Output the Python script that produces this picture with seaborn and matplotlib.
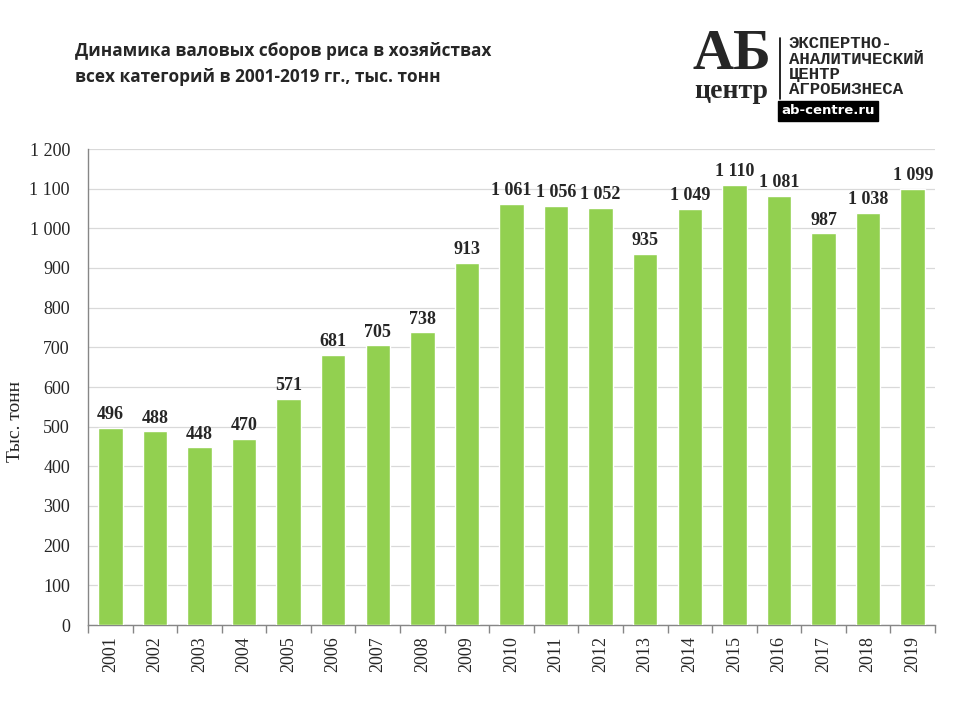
import matplotlib
matplotlib.use("Agg")
import matplotlib.pyplot as plt
import seaborn as sns
import pandas as pd
import numpy as np
from matplotlib.ticker import FuncFormatter, FixedLocator

years = ["2001", "2002", "2003", "2004", "2005", "2006", "2007", "2008", "2009", "2010",
         "2011", "2012", "2013", "2014", "2015", "2016", "2017", "2018", "2019"]
values = [496, 488, 448, 470, 571, 681, 705, 738, 913, 1061,
          1056, 1052, 935, 1049, 1110, 1081, 987, 1038, 1099]
title = "Динамика валовых сборов риса в хозяйствах\nвсех категорий в 2001-2019 гг., тыс. тонн"
ylabel = "Тыс. тонн"

df = pd.DataFrame({"year": years, "value": values})

sns.set_theme(style="white")
plt.rcParams['font.family'] = ['DejaVu Sans']

fig = plt.figure(figsize=(9.6, 7.2), dpi=100)
ax = fig.add_axes([88/960, 1-625/720, (935-88)/960, (625-149)/720])

sns.barplot(data=df, x="year", y="value", color="#92D050", saturation=1, width=0.55, ax=ax, zorder=3)

ax.set_ylim(0, 1200)
ax.set_xlim(-0.5, len(years)-0.5)
ax.yaxis.set_major_locator(FixedLocator(np.arange(0, 1201, 100)))
fmt = lambda v, p: f"{int(v):,}".replace(",", " ")
ax.yaxis.set_major_formatter(FuncFormatter(fmt))
ax.grid(axis="y", color="#d9d9d9", linewidth=0.9, zorder=0)
ax.grid(axis="x", visible=False)

for s in ["top", "right"]:
    ax.spines[s].set_visible(False)
for s in ["left", "bottom"]:
    ax.spines[s].set_color("#868686")
    ax.spines[s].set_linewidth(1.0)

serif = ["Liberation Serif", "DejaVu Serif"]
ax.tick_params(axis="y", which="major", length=5, color="#868686", labelsize=13, pad=8)
for t in ax.get_yticklabels():
    t.set_family(serif)
ax.set_xticks(range(len(years)))
ax.set_xticklabels(years, rotation=90, fontsize=13, family=serif)
ax.tick_params(axis="x", which="major", length=0, pad=8)
ax.set_xticks(np.arange(-0.5, len(years), 1.0), minor=True)
ax.tick_params(axis="x", which="minor", length=6, color="#868686", bottom=True)
ax.set_xlabel("")
ax.set_ylabel("")
fig.text(16/960, 1-422/720, ylabel, rotation=90, ha="center", va="center",
         family=serif, fontsize=14)

for i, v in enumerate(values):
    ax.text(i, v + 12, fmt(v, None), ha="center", va="bottom", fontsize=13,
            fontweight="bold", family=serif, zorder=4)

fig.text(75/960, 1-64/720, title, ha="left", va="center", fontsize=12.4,
         fontweight="bold", family=["Open Sans", "DejaVu Sans"], linespacing=1.6)

# logo
fig.text(732/960, 1-55/720, "АБ", ha="center", va="center", fontsize=41, fontweight="bold",
         family=serif)
fig.text(731/960, 1-91/720, "центр", ha="center", va="center", fontsize=20, fontweight="bold",
         family=serif)
fig.add_artist(plt.Line2D([780/960, 780/960], [1-38/720, 1-99/720], color="black", lw=1.2))
logo_lines = ["ЭКСПЕРТНО-", "АНАЛИТИЧЕСКИЙ", "ЦЕНТР", "АГРОБИЗНЕСА"]
for k, s in enumerate(logo_lines):
    fig.text(789/960, 1-(44 + k*15.0)/720, s, ha="left", va="center", fontsize=12.5,
             fontweight="bold", family=["Liberation Mono", "DejaVu Sans Mono"])
fig.text(828/960, 1-111/720, "ab-centre.ru", ha="center", va="center", fontsize=9.5,
         fontweight="bold", color="white", family=["DejaVu Sans"],
         bbox=dict(boxstyle="square,pad=0.25", facecolor="black", edgecolor="black"))

fig.savefig("out.png", dpi=100, facecolor="white")
